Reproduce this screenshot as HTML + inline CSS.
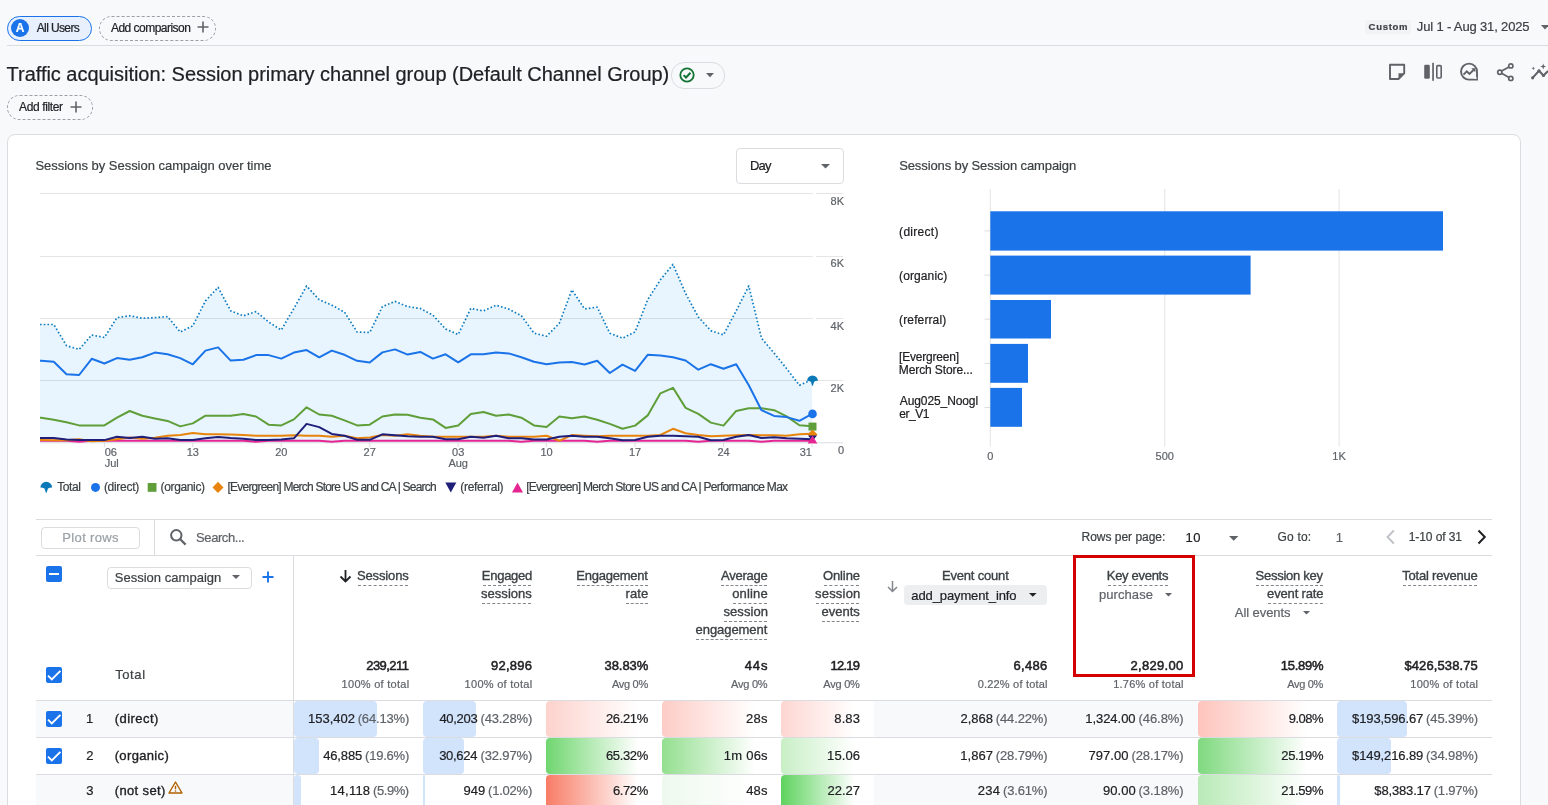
<!DOCTYPE html>
<html><head><meta charset="utf-8"><title>Traffic acquisition</title>
<style>
html,body{margin:0;padding:0;}
body{width:1548px;height:805px;overflow:hidden;position:relative;background:#f8f9fa;font-family:"Liberation Sans",Arial,sans-serif;}
.t{position:absolute;white-space:nowrap;line-height:1;-webkit-text-stroke:0.2px currentColor;}
.b{position:absolute;}
.ic{position:absolute;overflow:visible;}
.ic text{font-family:"Liberation Sans",Arial,sans-serif;stroke:#5f6368;stroke-width:0.2px;}
.u{position:absolute;height:0;border-top:1px dashed #80868b;}
</style></head><body>
<div class="b" style="left:7px;top:16px;width:83px;height:23px;border:1px solid #1a73e8;background:#e8f0fe;border-radius:13px;"></div>
<div class="b" style="left:11px;top:19px;width:18px;height:18px;background:#1a73e8;border-radius:50%;"></div>
<div class="t" style="left:15.65px;top:22.14px;font-size:12px;color:#fff;font-weight:700;">A</div>
<div class="t" style="left:36.70px;top:22.14px;font-size:12px;color:#202124;letter-spacing:-0.612px;">All Users</div>
<div class="b" style="left:99px;top:16px;width:115px;height:23px;border:1px dashed #9aa0a6;border-radius:13px;"></div>
<div class="t" style="left:111.00px;top:22.14px;font-size:12px;color:#202124;letter-spacing:-0.531px;">Add comparison</div>
<svg class="ic" style="left:197px;top:21px" width="12" height="12" viewBox="0 0 12 12"><path d="M6 0.5V11.5M0.5 6H11.5" stroke="#5f6368" stroke-width="1.6"/></svg>
<div class="b" style="left:7px;top:45px;width:1541px;height:1px;background:#dadce0;"></div>
<div class="b" style="left:1365px;top:20px;width:46px;height:14px;background:#f1f3f4;border-radius:2px;"></div>
<div class="t" style="left:1368.60px;top:22.46px;font-size:9.5px;color:#3c4043;font-weight:700;letter-spacing:0.720px;">Custom</div>
<div class="t" style="left:1416.80px;top:20.00px;font-size:13px;color:#3c4043;letter-spacing:-0.153px;">Jul 1 - Aug 31, 2025</div>
<svg class="ic" style="left:1541px;top:25px" width="8" height="5" viewBox="0 0 8 5"><path d="M0 0H8L4 4.5Z" fill="#5f6368"/></svg>
<div class="t" style="left:6.60px;top:64.47px;font-size:20px;color:#202124;letter-spacing:-0.029px;">Traffic acquisition: Session primary channel group (Default Channel Group)</div>
<div class="b" style="left:671px;top:62px;width:52px;height:25px;border:1px solid #dadce0;border-radius:13px;"></div>
<svg class="ic" style="left:679px;top:67px" width="16" height="16" viewBox="0 0 16 16"><circle cx="8" cy="8" r="6.7" fill="none" stroke="#137333" stroke-width="1.8"/><path d="M4.6 8.1L7 10.5L11.5 5.8" fill="none" stroke="#137333" stroke-width="2"/></svg>
<svg class="ic" style="left:706px;top:73px" width="8" height="5" viewBox="0 0 8 5"><path d="M0 0H8L4 4.2Z" fill="#5f6368"/></svg>
<div class="b" style="left:7px;top:95px;width:84px;height:23px;border:1px dashed #9aa0a6;border-radius:13px;"></div>
<div class="t" style="left:19.00px;top:101.14px;font-size:12px;color:#202124;letter-spacing:-0.378px;">Add filter</div>
<svg class="ic" style="left:69.5px;top:101px" width="12" height="12" viewBox="0 0 12 12"><path d="M6 0.5V11.5M0.5 6H11.5" stroke="#5f6368" stroke-width="1.6"/></svg>
<svg class="ic" style="left:1380px;top:55px" width="168" height="35" viewBox="0 0 168 35">
<g fill="none" stroke="#5f6368" stroke-width="1.9" stroke-linejoin="round">
<path d="M10 9.8H24.2V18.3L18.5 24H10Z"/>
</g>
<path d="M18.5 24V18.3H24.2Z" fill="#5f6368"/>
<rect x="44.2" y="9.8" width="5.6" height="14" rx="1.2" fill="#5f6368"/>
<rect x="52.2" y="7.8" width="1.7" height="18" fill="#5f6368"/>
<rect x="56.8" y="10.6" width="4.4" height="12.4" rx="1" fill="none" stroke="#5f6368" stroke-width="1.6"/>
<g fill="none" stroke="#5f6368" stroke-width="1.9">
<path d="M97 24.6H89.5A8 8 0 1 1 97 17Z"/>
<path d="M83.5 19.6L86.8 16.3L89.5 19L94.5 14" />
</g>
<path d="M91.3 13.2H95.3V17.2Z" fill="#5f6368"/>
<circle cx="95.6" cy="23" r="1.1" fill="#fff"/>
<g fill="none" stroke="#5f6368" stroke-width="1.7">
<circle cx="130.8" cy="10.9" r="2.1"/><circle cx="130.8" cy="23.4" r="2.1"/><circle cx="119.8" cy="17.2" r="2.1"/>
<path d="M121.6 16.1L129 11.9M121.6 18.3L129 22.4"/>
</g>
<g fill="#5f6368">
<path d="M163.2 8.5L164 10.7L166.2 11.5L164 12.3L163.2 14.5L162.4 12.3L160.2 11.5L162.4 10.7Z"/>
<path d="M153.3 11.4L153.8 12.8L155.2 13.3L153.8 13.8L153.3 15.2L152.8 13.8L151.4 13.3L152.8 12.8Z"/>
</g>
<path d="M152.6 22.8L159 15.8L163.5 20.5L168 16" fill="none" stroke="#5f6368" stroke-width="2"/>
<circle cx="152.6" cy="22.8" r="1.6" fill="#5f6368"/><circle cx="159" cy="15.8" r="1.6" fill="#5f6368"/><circle cx="163.5" cy="20.5" r="1.6" fill="#5f6368"/>
</svg>
<div class="b" style="left:7px;top:134px;width:1512px;height:700px;border:1px solid #dadce0;border-radius:8px;background:#fff;"></div>
<div class="t" style="left:35.40px;top:158.60px;font-size:13px;color:#3c4043;letter-spacing:-0.024px;">Sessions by Session campaign over time</div>
<div class="b" style="left:736px;top:148px;width:106px;height:34px;border:1px solid #dadce0;border-radius:4px;background:#fff;"></div>
<div class="t" style="left:750.00px;top:159.20px;font-size:13px;color:#202124;letter-spacing:-0.800px;">Day</div>
<svg class="ic" style="left:821px;top:164px" width="9" height="5" viewBox="0 0 9 5"><path d="M0 0H9L4.5 4.5Z" fill="#5f6368"/></svg>
<svg class="ic" style="left:0;top:0" width="1548" height="805" viewBox="0 0 1548 805"><path d="M40,324.5 L41.2,324.5 53.8,324.5 66.5,345.7 79.1,349.4 91.7,335.0 104.4,337.5 117.0,317.6 129.7,315.8 142.3,318.3 154.9,317.6 167.6,316.6 180.2,332.0 192.8,325.8 205.5,300.9 218.1,287.3 230.7,310.9 243.4,315.8 256.0,311.6 268.6,322.0 281.3,330.0 293.9,308.4 306.6,286.0 319.2,299.7 331.8,305.2 344.5,312.1 357.1,332.0 369.7,332.5 382.4,306.6 395.0,301.4 407.6,306.6 420.3,308.4 432.9,315.1 445.6,329.0 458.2,334.5 470.8,308.4 483.5,310.9 496.1,305.2 508.7,309.1 521.4,315.8 534.0,333.2 546.6,336.2 559.3,323.3 571.9,289.8 584.5,308.9 597.2,307.1 609.8,333.2 622.5,338.2 635.1,331.9 647.7,299.7 660.4,279.8 673.0,264.4 685.6,293.5 698.3,317.0 710.9,330.7 723.5,334.9 736.2,310.8 748.8,286.0 761.5,338.2 774.1,353.1 786.7,368.7 799.4,385.3 812.0,379.6 L812.5,442.8 L40,442.8Z" fill="#e8f5fe"/><path d="M40 193.5H812.8M816 193.5H843" stroke="rgba(0,0,0,0.1)" stroke-width="1"/><path d="M40 256.5H812.8M816 256.5H843" stroke="rgba(0,0,0,0.1)" stroke-width="1"/><path d="M40 318.5H812.8M816 318.5H843" stroke="rgba(0,0,0,0.1)" stroke-width="1"/><path d="M40 380.5H812.8M816 380.5H843" stroke="rgba(0,0,0,0.1)" stroke-width="1"/><path d="M40 442.8H812.8M816 442.8H843" stroke="#dadce0" stroke-width="1"/><polyline points="40,440.8 41.2,440.8 53.8,440.8 66.5,440.8 79.1,441.8 91.7,440.8 104.4,440.8 117.0,440.8 129.7,440.8 142.3,440.8 154.9,440.8 167.6,440.8 180.2,440.8 192.8,440.8 205.5,440.8 218.1,440.8 230.7,440.8 243.4,440.8 256.0,441.8 268.6,440.8 281.3,440.8 293.9,440.8 306.6,440.8 319.2,440.8 331.8,441.8 344.5,440.8 357.1,440.8 369.7,440.8 382.4,440.8 395.0,440.8 407.6,440.8 420.3,440.8 432.9,440.8 445.6,440.8 458.2,440.8 470.8,440.8 483.5,440.8 496.1,440.8 508.7,440.8 521.4,441.8 534.0,440.8 546.6,440.8 559.3,440.8 571.9,440.8 584.5,440.8 597.2,441.8 609.8,440.8 622.5,440.8 635.1,440.8 647.7,440.8 660.4,440.8 673.0,440.8 685.6,440.8 698.3,441.8 710.9,440.8 723.5,440.8 736.2,440.8 748.8,440.8 761.5,441.8 774.1,440.8 786.7,440.8 799.4,440.8 812.0,440.8" fill="none" stroke="#e52592" stroke-width="2" stroke-linejoin="round" /><polyline points="40,440.1 41.2,440.1 53.8,440.3 66.5,440.3 79.1,439.3 91.7,441.3 104.4,440.8 117.0,439.3 129.7,437.6 142.3,438.8 154.9,437.8 167.6,435.8 180.2,435.1 192.8,432.9 205.5,434.3 218.1,434.3 230.7,434.6 243.4,435.1 256.0,435.8 268.6,435.8 281.3,435.8 293.9,435.3 306.6,435.8 319.2,435.8 331.8,436.8 344.5,435.8 357.1,438.3 369.7,437.6 382.4,435.1 395.0,435.8 407.6,434.3 420.3,435.8 432.9,436.8 445.6,436.8 458.2,436.8 470.8,436.8 483.5,436.8 496.1,435.8 508.7,436.8 521.4,436.8 534.0,436.8 546.6,435.8 559.3,440.8 571.9,435.1 584.5,435.8 597.2,436.3 609.8,435.8 622.5,435.7 635.1,435.7 647.7,435.7 660.4,435.0 673.0,428.8 685.6,433.3 698.3,435.0 710.9,436.2 723.5,435.7 736.2,435.2 748.8,435.0 761.5,435.2 774.1,435.2 786.7,435.7 799.4,434.3 812.0,433.8" fill="none" stroke="#e8830c" stroke-width="2" stroke-linejoin="round" /><polyline points="40,438.1 41.2,438.1 53.8,438.1 66.5,439.6 79.1,440.1 91.7,440.1 104.4,440.1 117.0,436.8 129.7,438.1 142.3,436.8 154.9,438.8 167.6,438.3 180.2,440.1 192.8,440.1 205.5,438.3 218.1,437.1 230.7,438.1 243.4,438.8 256.0,440.1 268.6,440.1 281.3,439.6 293.9,438.3 306.6,423.9 319.2,427.1 331.8,433.9 344.5,435.8 357.1,439.8 369.7,439.8 382.4,434.3 395.0,435.3 407.6,436.3 420.3,436.8 432.9,436.8 445.6,439.3 458.2,439.3 470.8,436.8 483.5,437.8 496.1,435.8 508.7,438.3 521.4,438.3 534.0,439.6 546.6,439.6 559.3,436.8 571.9,435.8 584.5,436.8 597.2,436.8 609.8,438.3 622.5,440.2 635.1,440.0 647.7,436.7 660.4,435.7 673.0,435.7 685.6,436.2 698.3,436.7 710.9,440.2 723.5,440.0 736.2,436.7 748.8,435.0 761.5,438.0 774.1,437.2 786.7,438.2 799.4,438.7 812.0,439.2" fill="none" stroke="#1f1f7a" stroke-width="2" stroke-linejoin="round" /><polyline points="40,417.7 41.2,417.7 53.8,419.7 66.5,422.2 79.1,425.4 91.7,425.4 104.4,425.4 117.0,417.7 129.7,411.0 142.3,415.7 154.9,418.4 167.6,420.9 180.2,426.4 192.8,423.4 205.5,415.7 218.1,415.7 230.7,415.7 243.4,414.0 256.0,416.5 268.6,424.7 281.3,425.4 293.9,419.4 306.6,407.3 319.2,414.5 331.8,415.7 344.5,420.4 357.1,425.4 369.7,424.7 382.4,416.5 395.0,414.5 407.6,414.7 420.3,417.7 432.9,419.4 445.6,427.9 458.2,425.4 470.8,414.0 483.5,412.0 496.1,415.7 508.7,414.5 521.4,417.7 534.0,425.4 546.6,427.1 559.3,416.5 571.9,418.2 584.5,416.5 597.2,419.7 609.8,423.9 622.5,428.8 635.1,425.6 647.7,415.4 660.4,393.3 673.0,387.8 685.6,407.9 698.3,413.9 710.9,422.6 723.5,425.6 736.2,410.9 748.8,408.2 761.5,408.2 774.1,410.2 786.7,416.4 799.4,425.3 812.0,426.3" fill="none" stroke="#5f9e38" stroke-width="2" stroke-linejoin="round" /><polyline points="40,360.8 41.2,360.8 53.8,361.8 66.5,374.2 79.1,375.0 91.7,358.8 104.4,363.5 117.0,358.1 129.7,359.8 142.3,357.3 154.9,352.6 167.6,354.3 180.2,358.1 192.8,364.3 205.5,350.6 218.1,347.4 230.7,360.6 243.4,359.8 256.0,355.1 268.6,355.1 281.3,358.6 293.9,352.6 306.6,350.1 319.2,357.3 331.8,350.6 344.5,354.8 357.1,360.8 369.7,362.5 382.4,352.4 395.0,349.4 407.6,354.6 420.3,351.9 432.9,358.6 445.6,354.3 458.2,362.3 470.8,354.3 483.5,354.3 496.1,352.6 508.7,353.4 521.4,357.3 534.0,361.8 546.6,364.3 559.3,362.5 571.9,362.0 584.5,364.5 597.2,360.8 609.8,373.0 622.5,364.7 635.1,370.9 647.7,354.8 660.4,355.5 673.0,357.3 685.6,360.5 698.3,369.7 710.9,364.2 723.5,368.7 736.2,364.2 748.8,385.3 761.5,410.2 774.1,415.9 786.7,417.1 799.4,420.8 812.0,413.9" fill="none" stroke="#1a73e8" stroke-width="2" stroke-linejoin="round" /><polyline points="40,324.5 41.2,324.5 53.8,324.5 66.5,345.7 79.1,349.4 91.7,335.0 104.4,337.5 117.0,317.6 129.7,315.8 142.3,318.3 154.9,317.6 167.6,316.6 180.2,332.0 192.8,325.8 205.5,300.9 218.1,287.3 230.7,310.9 243.4,315.8 256.0,311.6 268.6,322.0 281.3,330.0 293.9,308.4 306.6,286.0 319.2,299.7 331.8,305.2 344.5,312.1 357.1,332.0 369.7,332.5 382.4,306.6 395.0,301.4 407.6,306.6 420.3,308.4 432.9,315.1 445.6,329.0 458.2,334.5 470.8,308.4 483.5,310.9 496.1,305.2 508.7,309.1 521.4,315.8 534.0,333.2 546.6,336.2 559.3,323.3 571.9,289.8 584.5,308.9 597.2,307.1 609.8,333.2 622.5,338.2 635.1,331.9 647.7,299.7 660.4,279.8 673.0,264.4 685.6,293.5 698.3,317.0 710.9,330.7 723.5,334.9 736.2,310.8 748.8,286.0 761.5,338.2 774.1,353.1 786.7,368.7 799.4,385.3 812.0,379.6" fill="none" stroke="#0f7cbf" stroke-width="1.7" stroke-linejoin="round" stroke-dasharray="1.6 2.13"/><path d="M807.1,380.8 A5.4 5.2 0 0 1 817.9,380.8 Q815.5,380.8 814.1,381.8 L812.9,385.8 L812.1,385.8 L810.9,381.8 Q809.5,380.8 807.1,380.8Z" fill="#0b79b8"/><circle cx="812.5" cy="413.9" r="4.3" fill="#1a73e8"/><rect x="808.5" y="422.6" width="8" height="8" fill="#5f9e38"/><path d="M812.5,429.5 L817.5,434.5 L812.5,439.5 L807.5,434.5Z" fill="#e8830c"/><path d="M808.0,435.5 H817.0 L812.5,441Z" fill="#1f1f7a"/><path d="M807.7,443.5 H817.3 L812.5,435.5Z" fill="#e52592"/><path d="M104.4 443V447" stroke="#dadce0" stroke-width="1"/><text x="104.7" y="455.8" font-size="11" fill="#5f6368" text-anchor="start">06</text><text x="104.7" y="466.8" font-size="11" fill="#5f6368" text-anchor="start">Jul</text><path d="M192.8 443V447" stroke="#dadce0" stroke-width="1"/><text x="192.8" y="455.8" font-size="11" fill="#5f6368" text-anchor="middle">13</text><path d="M281.3 443V447" stroke="#dadce0" stroke-width="1"/><text x="281.3" y="455.8" font-size="11" fill="#5f6368" text-anchor="middle">20</text><path d="M369.7 443V447" stroke="#dadce0" stroke-width="1"/><text x="369.7" y="455.8" font-size="11" fill="#5f6368" text-anchor="middle">27</text><path d="M458.2 443V447" stroke="#dadce0" stroke-width="1"/><text x="458.2" y="455.8" font-size="11" fill="#5f6368" text-anchor="middle">03</text><text x="458.2" y="466.8" font-size="11" fill="#5f6368" text-anchor="middle">Aug</text><path d="M546.6 443V447" stroke="#dadce0" stroke-width="1"/><text x="546.6" y="455.8" font-size="11" fill="#5f6368" text-anchor="middle">10</text><path d="M635.1 443V447" stroke="#dadce0" stroke-width="1"/><text x="635.1" y="455.8" font-size="11" fill="#5f6368" text-anchor="middle">17</text><path d="M723.5 443V447" stroke="#dadce0" stroke-width="1"/><text x="723.5" y="455.8" font-size="11" fill="#5f6368" text-anchor="middle">24</text><path d="M812.0 443V447" stroke="#dadce0" stroke-width="1"/><text x="812.0" y="455.8" font-size="11" fill="#5f6368" text-anchor="end">31</text><text x="844" y="204.8" font-size="11" fill="#5f6368" text-anchor="end">8K</text><text x="844" y="267.1" font-size="11" fill="#5f6368" text-anchor="end">6K</text><text x="844" y="329.5" font-size="11" fill="#5f6368" text-anchor="end">4K</text><text x="844" y="391.8" font-size="11" fill="#5f6368" text-anchor="end">2K</text><text x="844" y="454.2" font-size="11" fill="#5f6368" text-anchor="end">0</text><path d="M40.4,487.6 A5.85 5.8 0 0 1 52.1,487.6 Q49.6,487.6 48,488.6 L46.6,492.8 L45.9,492.8 L44.5,488.6 Q42.9,487.6 40.4,487.6Z" fill="#0b79b8"/><circle cx="95.5" cy="487.4" r="4.5" fill="#1a73e8"/><rect x="147.7" y="483" width="8.8" height="8.8" fill="#5f9e38"/><path d="M218,481.8 L223.5,487.4 L218,493 L212.5,487.4Z" fill="#e8830c"/><path d="M445.3,482.4 H456.3 L450.8,492.4Z" fill="#1f1f7a"/><path d="M512,492.4 H523 L517.5,482.4Z" fill="#e52592"/><path d="M990.3 189V446.6" stroke="#e3e3e3" stroke-width="1"/><path d="M1164.8 189V446.6" stroke="#e3e3e3" stroke-width="1"/><path d="M1339.1 189V446.6" stroke="#e3e3e3" stroke-width="1"/><rect x="990.3" y="211.3" width="452.7" height="39.3" fill="#1a73e8"/><path d="M984.4 230.9H990" stroke="#dadce0" stroke-width="1"/><rect x="990.3" y="255.6" width="260.3" height="39.0" fill="#1a73e8"/><path d="M984.4 275.1H990" stroke="#dadce0" stroke-width="1"/><rect x="990.3" y="300" width="60.7" height="38.5" fill="#1a73e8"/><path d="M984.4 319.2H990" stroke="#dadce0" stroke-width="1"/><rect x="990.3" y="343.9" width="37.7" height="38.9" fill="#1a73e8"/><path d="M984.4 363.4H990" stroke="#dadce0" stroke-width="1"/><rect x="990.3" y="387.9" width="31.7" height="38.9" fill="#1a73e8"/><path d="M984.4 407.4H990" stroke="#dadce0" stroke-width="1"/><text x="990.3" y="460" font-size="11" fill="#5f6368" text-anchor="middle">0</text><text x="1164.8" y="460" font-size="11" fill="#5f6368" text-anchor="middle">500</text><text x="1339.1" y="460" font-size="11" fill="#5f6368" text-anchor="middle">1K</text></svg>
<div class="t" style="left:899.20px;top:159.30px;font-size:13px;color:#3c4043;letter-spacing:-0.111px;">Sessions by Session campaign</div>
<div class="t" style="left:899.10px;top:225.64px;font-size:12px;color:#202124;letter-spacing:0.286px;">(direct)</div>
<div class="t" style="left:899.10px;top:269.84px;font-size:12px;color:#202124;letter-spacing:0.100px;">(organic)</div>
<div class="t" style="left:899.10px;top:313.84px;font-size:12px;color:#202124;letter-spacing:0.122px;">(referral)</div>
<div class="t" style="left:899.00px;top:351.34px;font-size:12px;color:#202124;letter-spacing:-0.200px;">[Evergreen]</div>
<div class="t" style="left:898.80px;top:364.14px;font-size:12px;color:#202124;letter-spacing:-0.100px;">Merch Store...</div>
<div class="t" style="left:899.80px;top:395.34px;font-size:12px;color:#202124;letter-spacing:-0.100px;">Aug025_Noogl</div>
<div class="t" style="left:899.30px;top:408.14px;font-size:12px;color:#202124;letter-spacing:-0.475px;">er_V1</div>
<div class="t" style="left:57.20px;top:480.94px;font-size:12px;color:#3c4043;letter-spacing:-0.425px;">Total</div>
<div class="t" style="left:103.90px;top:480.94px;font-size:12px;color:#3c4043;letter-spacing:-0.286px;">(direct)</div>
<div class="t" style="left:160.60px;top:480.94px;font-size:12px;color:#3c4043;letter-spacing:-0.362px;">(organic)</div>
<div class="t" style="left:227.50px;top:480.94px;font-size:12px;color:#3c4043;letter-spacing:-0.783px;">[Evergreen] Merch Store US and CA | Search</div>
<div class="t" style="left:460.30px;top:480.94px;font-size:12px;color:#3c4043;letter-spacing:-0.311px;">(referral)</div>
<div class="t" style="left:526.20px;top:480.94px;font-size:12px;color:#3c4043;letter-spacing:-0.720px;">[Evergreen] Merch Store US and CA | Performance Max</div>
<div class="b" style="left:36px;top:519px;width:1456px;height:1px;background:#dadce0;"></div>
<div class="b" style="left:36px;top:555px;width:1456px;height:1px;background:#dadce0;"></div>
<div class="b" style="left:154px;top:519px;width:1px;height:36px;background:#dadce0;"></div>
<div class="b" style="left:41px;top:527px;width:97px;height:20px;border:1px solid #dadce0;border-radius:4px;"></div>
<div class="t" style="left:62.30px;top:531.30px;font-size:13px;color:#9aa0a6;letter-spacing:0.350px;">Plot rows</div>
<svg class="ic" style="left:169px;top:528px" width="18" height="18" viewBox="0 0 18 18"><circle cx="7.3" cy="7.3" r="5.2" fill="none" stroke="#5f6368" stroke-width="2"/><path d="M11 11L16.6 16.6" stroke="#5f6368" stroke-width="2.2"/></svg>
<div class="t" style="left:196.10px;top:531.20px;font-size:13px;color:#5f6368;letter-spacing:-0.425px;">Search...</div>
<div class="t" style="left:1081.50px;top:530.94px;font-size:12px;color:#3c4043;letter-spacing:-0.015px;">Rows per page:</div>
<div class="t" style="left:1185.60px;top:531.00px;font-size:13px;color:#202124;letter-spacing:0.500px;">10</div>
<svg class="ic" style="left:1229px;top:536px" width="10" height="5" viewBox="0 0 10 5"><path d="M0 0H9.4L4.7 4.8Z" fill="#5f6368"/></svg>
<div class="t" style="left:1277.60px;top:530.94px;font-size:12px;color:#3c4043;letter-spacing:0.160px;">Go to:</div>
<div class="t" style="left:1335.80px;top:531.00px;font-size:13px;color:#5f6368;">1</div>
<svg class="ic" style="left:1384px;top:529px" width="14" height="16" viewBox="0 0 14 16"><path d="M9.8 1.5L3.5 8L9.8 14.5" fill="none" stroke="#bdc1c6" stroke-width="1.8"/></svg>
<div class="t" style="left:1408.70px;top:530.64px;font-size:12px;color:#3c4043;letter-spacing:-0.078px;">1-10 of 31</div>
<svg class="ic" style="left:1475px;top:529px" width="14" height="16" viewBox="0 0 14 16"><path d="M3.5 1.5L9.8 8L3.5 14.5" fill="none" stroke="#202124" stroke-width="2"/></svg>
<div class="b" style="left:46px;top:566px;width:16px;height:16px;background:#1a73e8;border-radius:2px;"></div>
<div class="b" style="left:49px;top:573px;width:10px;height:2px;background:#fff;"></div>
<div class="b" style="left:107px;top:567px;width:143px;height:19.5px;border:1px solid #dadce0;border-radius:4px;"></div>
<div class="t" style="left:114.70px;top:571.00px;font-size:13px;color:#3c4043;letter-spacing:0.027px;">Session campaign</div>
<svg class="ic" style="left:232px;top:575px" width="9" height="5" viewBox="0 0 9 5"><path d="M0 0H8L4 4Z" fill="#5f6368"/></svg>
<svg class="ic" style="left:262px;top:571px" width="12" height="12" viewBox="0 0 12 12"><path d="M6 0.5V11.5M0.5 6H11.5" stroke="#1a73e8" stroke-width="1.9"/></svg>
<div class="b" style="left:293px;top:555px;width:1px;height:260px;background:#dadce0;"></div>
<div class="t" style="left:356.90px;top:569.20px;font-size:13px;color:#3c4043;-webkit-text-stroke:0.35px currentColor;letter-spacing:-0.114px;">Sessions</div><div class="u" style="left:357.5px;top:585.2px;width:50.9px"></div>
<svg class="ic" style="left:339px;top:569px" width="13" height="14" viewBox="0 0 13 14"><path d="M6.5 1V12.5M1.5 7.5L6.5 12.5L11.5 7.5" fill="none" stroke="#202124" stroke-width="1.8"/></svg>
<div class="t" style="left:481.80px;top:569.20px;font-size:13px;color:#3c4043;-webkit-text-stroke:0.35px currentColor;letter-spacing:-0.267px;">Engaged</div><div class="u" style="left:482.8px;top:585.2px;width:48.6px"></div><div class="t" style="left:481.10px;top:587.20px;font-size:13px;color:#3c4043;-webkit-text-stroke:0.35px currentColor;letter-spacing:0.014px;">sessions</div><div class="u" style="left:481.5px;top:603.2px;width:49.9px"></div>
<div class="t" style="left:576.30px;top:569.20px;font-size:13px;color:#3c4043;-webkit-text-stroke:0.35px currentColor;letter-spacing:-0.233px;">Engagement</div><div class="u" style="left:577.3px;top:585.2px;width:70.5px"></div><div class="t" style="left:625.60px;top:587.20px;font-size:13px;color:#3c4043;-webkit-text-stroke:0.35px currentColor;letter-spacing:0.100px;">rate</div><div class="u" style="left:626.4px;top:603.2px;width:21.4px"></div>
<div class="t" style="left:721.10px;top:569.20px;font-size:13px;color:#3c4043;-webkit-text-stroke:0.35px currentColor;letter-spacing:-0.267px;">Average</div><div class="u" style="left:721.1px;top:585.2px;width:46.1px"></div><div class="t" style="left:732.20px;top:587.20px;font-size:13px;color:#3c4043;-webkit-text-stroke:0.35px currentColor;letter-spacing:0.160px;">online</div><div class="u" style="left:732.7px;top:603.2px;width:34.5px"></div><div class="t" style="left:723.40px;top:605.20px;font-size:13px;color:#3c4043;-webkit-text-stroke:0.35px currentColor;letter-spacing:0.100px;">session</div><div class="u" style="left:723.8px;top:621.2px;width:43.4px"></div><div class="t" style="left:695.60px;top:623.20px;font-size:13px;color:#3c4043;-webkit-text-stroke:0.35px currentColor;letter-spacing:-0.067px;">engagement</div><div class="u" style="left:696.1px;top:639.2px;width:71.1px"></div>
<div class="t" style="left:823.00px;top:569.20px;font-size:13px;color:#3c4043;-webkit-text-stroke:0.35px currentColor;letter-spacing:-0.120px;">Online</div><div class="u" style="left:823.6px;top:585.2px;width:35.8px"></div><div class="t" style="left:815.10px;top:587.20px;font-size:13px;color:#3c4043;-webkit-text-stroke:0.35px currentColor;letter-spacing:0.183px;">session</div><div class="u" style="left:815.5px;top:603.2px;width:43.9px"></div><div class="t" style="left:821.50px;top:605.20px;font-size:13px;color:#3c4043;-webkit-text-stroke:0.35px currentColor;">events</div><div class="u" style="left:822.0px;top:621.2px;width:37.4px"></div>
<svg class="ic" style="left:886px;top:580px" width="13" height="13" viewBox="0 0 13 13"><path d="M6.5 1V11.5M2 7L6.5 11.5L11 7" fill="none" stroke="#80868b" stroke-width="1.5"/></svg>
<div class="t" style="left:942.00px;top:569.20px;font-size:13px;color:#3c4043;-webkit-text-stroke:0.35px currentColor;letter-spacing:-0.190px;">Event count</div>
<div class="u" style="left:943px;top:585.2px;width:65.6px"></div>
<div class="b" style="left:904.2px;top:585.4px;width:142.4px;height:20.1px;background:#eceef0;border-radius:4px;"></div>
<div class="t" style="left:911.30px;top:589.00px;font-size:13px;color:#202124;letter-spacing:-0.113px;">add_payment_info</div>
<svg class="ic" style="left:1029px;top:593px" width="8" height="5" viewBox="0 0 8 5"><path d="M0 0H7.6L3.8 3.8Z" fill="#202124"/></svg>
<div class="t" style="left:1106.80px;top:569.20px;font-size:13px;color:#3c4043;-webkit-text-stroke:0.35px currentColor;letter-spacing:-0.300px;">Key events</div>
<div class="u" style="left:1107.8px;top:585.2px;width:60.2px"></div>
<div class="t" style="left:1099.00px;top:588.40px;font-size:13px;color:#5f6368;letter-spacing:0.071px;">purchase</div>
<svg class="ic" style="left:1164.5px;top:593px" width="8" height="5" viewBox="0 0 8 5"><path d="M0 0H7L3.5 3.5Z" fill="#5f6368"/></svg>
<div class="t" style="left:1255.60px;top:569.20px;font-size:13px;color:#3c4043;-webkit-text-stroke:0.35px currentColor;letter-spacing:-0.270px;">Session key</div><div class="u" style="left:1256.2px;top:585.2px;width:66.8px"></div><div class="t" style="left:1267.10px;top:587.20px;font-size:13px;color:#3c4043;-webkit-text-stroke:0.35px currentColor;letter-spacing:-0.156px;">event rate</div><div class="u" style="left:1267.6px;top:603.2px;width:55.4px"></div>
<div class="t" style="left:1234.80px;top:606.40px;font-size:13px;color:#5f6368;letter-spacing:-0.067px;">All events</div>
<svg class="ic" style="left:1303px;top:611px" width="8" height="5" viewBox="0 0 8 5"><path d="M0 0H7L3.5 3.5Z" fill="#5f6368"/></svg>
<div class="t" style="left:1402.20px;top:569.20px;font-size:13px;color:#3c4043;-webkit-text-stroke:0.35px currentColor;letter-spacing:-0.200px;">Total revenue</div><div class="u" style="left:1402.5px;top:585.2px;width:74.8px"></div>
<div class="b" style="left:46px;top:667px;width:16px;height:16px;background:#1a73e8;border-radius:2px;"></div>
<svg class="ic" style="left:46px;top:667px" width="16" height="16" viewBox="0 0 16 16"><path d="M2 8.7L5.8 12.5L14.4 3.9" fill="none" stroke="#fff" stroke-width="1.9"/></svg>
<div class="t" style="left:115.20px;top:668.00px;font-size:13px;color:#3c4043;letter-spacing:0.600px;">Total</div>
<div class="t" style="left:366.20px;top:659.40px;font-size:13px;color:#202124;-webkit-text-stroke:0.35px currentColor;letter-spacing:-0.533px;-webkit-text-stroke:0.5px #202124;">239,211</div>
<div class="t" style="left:341.60px;top:679.19px;font-size:11px;color:#5f6368;letter-spacing:0.275px;">100% of total</div>
<div class="t" style="left:491.00px;top:659.40px;font-size:13px;color:#202124;-webkit-text-stroke:0.35px currentColor;letter-spacing:0.240px;-webkit-text-stroke:0.5px #202124;">92,896</div>
<div class="t" style="left:464.60px;top:679.19px;font-size:11px;color:#5f6368;letter-spacing:0.275px;">100% of total</div>
<div class="t" style="left:604.50px;top:659.40px;font-size:13px;color:#202124;-webkit-text-stroke:0.35px currentColor;letter-spacing:-0.060px;-webkit-text-stroke:0.5px #202124;">38.83%</div>
<div class="t" style="left:612.00px;top:679.19px;font-size:11px;color:#5f6368;letter-spacing:-0.300px;">Avg 0%</div>
<div class="t" style="left:744.70px;top:659.40px;font-size:13px;color:#202124;-webkit-text-stroke:0.35px currentColor;letter-spacing:0.950px;-webkit-text-stroke:0.5px #202124;">44s</div>
<div class="t" style="left:731.10px;top:679.19px;font-size:11px;color:#5f6368;letter-spacing:-0.240px;">Avg 0%</div>
<div class="t" style="left:830.50px;top:659.40px;font-size:13px;color:#202124;-webkit-text-stroke:0.35px currentColor;letter-spacing:-0.750px;-webkit-text-stroke:0.5px #202124;">12.19</div>
<div class="t" style="left:823.30px;top:679.19px;font-size:11px;color:#5f6368;letter-spacing:-0.240px;">Avg 0%</div>
<div class="t" style="left:1013.50px;top:659.40px;font-size:13px;color:#202124;-webkit-text-stroke:0.35px currentColor;letter-spacing:0.300px;-webkit-text-stroke:0.5px #202124;">6,486</div>
<div class="t" style="left:977.70px;top:679.19px;font-size:11px;color:#5f6368;letter-spacing:0.192px;">0.22% of total</div>
<div class="t" style="left:1130.50px;top:659.40px;font-size:13px;color:#202124;-webkit-text-stroke:0.35px currentColor;letter-spacing:0.314px;-webkit-text-stroke:0.5px #202124;">2,829.00</div>
<div class="t" style="left:1113.20px;top:679.19px;font-size:11px;color:#5f6368;letter-spacing:0.238px;">1.76% of total</div>
<div class="t" style="left:1280.80px;top:659.40px;font-size:13px;color:#202124;-webkit-text-stroke:0.35px currentColor;letter-spacing:-0.280px;-webkit-text-stroke:0.5px #202124;">15.89%</div>
<div class="t" style="left:1287.20px;top:679.19px;font-size:11px;color:#5f6368;letter-spacing:-0.300px;">Avg 0%</div>
<div class="t" style="left:1404.40px;top:659.40px;font-size:13px;color:#202124;-webkit-text-stroke:0.35px currentColor;letter-spacing:0.110px;-webkit-text-stroke:0.5px #202124;">$426,538.75</div>
<div class="t" style="left:1410.30px;top:679.19px;font-size:11px;color:#5f6368;letter-spacing:0.292px;">100% of total</div>
<div class="b" style="left:36px;top:700px;width:1456px;height:1px;background:#dadce0;"></div>
<div class="b" style="left:36px;top:737px;width:1456px;height:1px;background:#dadce0;"></div>
<div class="b" style="left:36px;top:774px;width:1456px;height:1px;background:#dadce0;"></div>
<div class="b" style="left:36px;top:701px;width:257px;height:36px;background:#f8f9fa;"></div>
<div class="b" style="left:874px;top:701px;width:324px;height:36px;background:#f8f9fa;"></div>
<div class="b" style="left:36px;top:775px;width:257px;height:36px;background:#f8f9fa;"></div>
<div class="b" style="left:874px;top:775px;width:324px;height:36px;background:#f8f9fa;"></div>
<div class="b" style="left:46px;top:711px;width:16px;height:16px;background:#1a73e8;border-radius:2px;"></div>
<svg class="ic" style="left:46px;top:711px" width="16" height="16" viewBox="0 0 16 16"><path d="M2 8.7L5.8 12.5L14.4 3.9" fill="none" stroke="#fff" stroke-width="1.9"/></svg>
<div class="b" style="left:46px;top:748px;width:16px;height:16px;background:#1a73e8;border-radius:2px;"></div>
<svg class="ic" style="left:46px;top:748px" width="16" height="16" viewBox="0 0 16 16"><path d="M2 8.7L5.8 12.5L14.4 3.9" fill="none" stroke="#fff" stroke-width="1.9"/></svg>
<div class="t" style="left:86.00px;top:712.00px;font-size:13px;color:#202124;">1</div>
<div class="t" style="left:114.70px;top:712.00px;font-size:13px;color:#202124;-webkit-text-stroke:0.35px currentColor;letter-spacing:0.471px;">(direct)</div>
<div class="t" style="left:86.20px;top:749.00px;font-size:13px;color:#202124;">2</div>
<div class="t" style="left:114.70px;top:749.00px;font-size:13px;color:#202124;-webkit-text-stroke:0.35px currentColor;letter-spacing:0.350px;">(organic)</div>
<div class="t" style="left:86.20px;top:783.70px;font-size:13px;color:#202124;">3</div>
<div class="t" style="left:114.70px;top:783.70px;font-size:13px;color:#202124;-webkit-text-stroke:0.35px currentColor;letter-spacing:0.375px;">(not set)</div>
<svg class="ic" style="left:168px;top:781px" width="15" height="13" viewBox="0 0 15 13"><path d="M7.5 1L14 12H1Z" fill="none" stroke="#b06000" stroke-width="1.4" stroke-linejoin="round"/><path d="M7.5 4.8V8.3" stroke="#b06000" stroke-width="1.4"/><circle cx="7.5" cy="10" r="0.8" fill="#b06000"/></svg>
<div class="b" style="left:294.3px;top:701px;width:82.59999999999997px;height:35.5px;background:#d2e3fc;border-radius:4px;"></div>
<div class="b" style="left:423px;top:701px;width:52.89999999999998px;height:35.5px;background:#d2e3fc;border-radius:4px;"></div>
<div class="b" style="left:1337.3px;top:701px;width:69.40000000000009px;height:35.5px;background:#d2e3fc;border-radius:4px;"></div>
<div class="b" style="left:294.3px;top:738px;width:24.599999999999966px;height:35.5px;background:#d2e3fc;border-radius:4px;"></div>
<div class="b" style="left:423px;top:738px;width:40.69999999999999px;height:35.5px;background:#d2e3fc;border-radius:4px;"></div>
<div class="b" style="left:1337.3px;top:738px;width:53.40000000000009px;height:35.5px;background:#d2e3fc;border-radius:4px;"></div>
<div class="b" style="left:294.3px;top:775px;width:6.599999999999966px;height:35.5px;background:#d2e3fc;border-radius:4px;"></div>
<div class="b" style="left:423px;top:775px;width:2.1999999999999886px;height:35.5px;background:#d2e3fc;border-radius:4px;"></div>
<div class="b" style="left:1337.3px;top:775px;width:2.2999999999999545px;height:35.5px;background:#d2e3fc;border-radius:4px;"></div>
<div class="b" style="left:546px;top:701px;width:115px;height:35.5px;background:linear-gradient(90deg,#fdd2cc 0%,rgba(255,255,255,0) 80%);border-radius:4px;"></div>
<div class="b" style="left:546px;top:738px;width:115px;height:35.5px;background:linear-gradient(90deg,#6fd66f 0%,rgba(255,255,255,0) 80%);border-radius:4px;"></div>
<div class="b" style="left:546px;top:775px;width:115px;height:35.5px;background:linear-gradient(90deg,#f87c66 0%,rgba(255,255,255,0) 80%);border-radius:4px;"></div>
<div class="b" style="left:662px;top:701px;width:116px;height:35.5px;background:linear-gradient(90deg,#fdccc6 0%,rgba(255,255,255,0) 80%);border-radius:4px;"></div>
<div class="b" style="left:662px;top:738px;width:116px;height:35.5px;background:linear-gradient(90deg,#93df8f 0%,rgba(255,255,255,0) 80%);border-radius:4px;"></div>
<div class="b" style="left:662px;top:775px;width:116px;height:35.5px;background:linear-gradient(90deg,#eef9ee 0%,rgba(255,255,255,0) 80%);border-radius:4px;"></div>
<div class="b" style="left:781px;top:701px;width:92px;height:35.5px;background:linear-gradient(90deg,#fdd6d1 0%,rgba(255,255,255,0) 80%);border-radius:4px;"></div>
<div class="b" style="left:781px;top:738px;width:92px;height:35.5px;background:linear-gradient(90deg,#c8efc6 0%,rgba(255,255,255,0) 80%);border-radius:4px;"></div>
<div class="b" style="left:781px;top:775px;width:92px;height:35.5px;background:linear-gradient(90deg,#5ed35e 0%,rgba(255,255,255,0) 80%);border-radius:4px;"></div>
<div class="b" style="left:1198px;top:701px;width:136px;height:35.5px;background:linear-gradient(90deg,#fdc4bc 0%,rgba(255,255,255,0) 80%);border-radius:4px;"></div>
<div class="b" style="left:1198px;top:738px;width:136px;height:35.5px;background:linear-gradient(90deg,#7fd97f 0%,rgba(255,255,255,0) 80%);border-radius:4px;"></div>
<div class="b" style="left:1198px;top:775px;width:136px;height:35.5px;background:linear-gradient(90deg,#b8eab6 0%,rgba(255,255,255,0) 80%);border-radius:4px;"></div>
<div class="t" style="left:357.70px;top:712.00px;font-size:13px;color:#5f6368;letter-spacing:-0.171px;">(64.13%)</div><div class="t" style="left:308.10px;top:712.00px;font-size:13px;color:#202124;letter-spacing:-0.033px;">153,402</div>
<div class="t" style="left:480.50px;top:712.00px;font-size:13px;color:#5f6368;letter-spacing:-0.143px;">(43.28%)</div><div class="t" style="left:439.40px;top:712.00px;font-size:13px;color:#202124;letter-spacing:-0.300px;">40,203</div>
<div class="t" style="left:605.90px;top:712.00px;font-size:13px;color:#202124;letter-spacing:-0.340px;">26.21%</div>
<div class="t" style="left:745.90px;top:712.00px;font-size:13px;color:#202124;letter-spacing:0.350px;">28s</div>
<div class="t" style="left:834.30px;top:712.00px;font-size:13px;color:#202124;letter-spacing:0.100px;">8.83</div>
<div class="t" style="left:995.80px;top:712.00px;font-size:13px;color:#5f6368;letter-spacing:-0.143px;">(44.22%)</div><div class="t" style="left:960.60px;top:712.00px;font-size:13px;color:#202124;letter-spacing:-0.050px;">2,868</div>
<div class="t" style="left:1138.50px;top:712.00px;font-size:13px;color:#5f6368;letter-spacing:-0.067px;">(46.8%)</div><div class="t" style="left:1085.20px;top:712.00px;font-size:13px;color:#202124;letter-spacing:-0.029px;">1,324.00</div>
<div class="t" style="left:1288.70px;top:712.00px;font-size:13px;color:#202124;letter-spacing:-0.525px;">9.08%</div>
<div class="t" style="left:1426.10px;top:712.00px;font-size:13px;color:#5f6368;letter-spacing:-0.100px;">(45.39%)</div><div class="t" style="left:1352.10px;top:712.00px;font-size:13px;color:#202124;letter-spacing:-0.110px;">$193,596.67</div>
<div class="t" style="left:365.10px;top:749.00px;font-size:13px;color:#5f6368;letter-spacing:-0.233px;">(19.6%)</div><div class="t" style="left:323.20px;top:749.00px;font-size:13px;color:#202124;letter-spacing:-0.140px;">46,885</div>
<div class="t" style="left:480.50px;top:749.00px;font-size:13px;color:#5f6368;letter-spacing:-0.143px;">(32.97%)</div><div class="t" style="left:439.20px;top:749.00px;font-size:13px;color:#202124;letter-spacing:-0.300px;">30,624</div>
<div class="t" style="left:605.90px;top:749.00px;font-size:13px;color:#202124;letter-spacing:-0.340px;">65.32%</div>
<div class="t" style="left:723.70px;top:749.00px;font-size:13px;color:#202124;letter-spacing:0.260px;">1m 06s</div>
<div class="t" style="left:827.10px;top:749.00px;font-size:13px;color:#202124;letter-spacing:0.075px;">15.06</div>
<div class="t" style="left:995.80px;top:749.00px;font-size:13px;color:#5f6368;letter-spacing:-0.143px;">(28.79%)</div><div class="t" style="left:960.20px;top:749.00px;font-size:13px;color:#202124;letter-spacing:0.075px;">1,867</div>
<div class="t" style="left:1131.40px;top:749.00px;font-size:13px;color:#5f6368;letter-spacing:-0.071px;">(28.17%)</div><div class="t" style="left:1088.50px;top:749.00px;font-size:13px;color:#202124;letter-spacing:0.060px;">797.00</div>
<div class="t" style="left:1281.30px;top:749.00px;font-size:13px;color:#202124;letter-spacing:-0.380px;">25.19%</div>
<div class="t" style="left:1426.10px;top:749.00px;font-size:13px;color:#5f6368;letter-spacing:-0.100px;">(34.98%)</div><div class="t" style="left:1352.10px;top:749.00px;font-size:13px;color:#202124;letter-spacing:-0.110px;">$149,216.89</div>
<div class="t" style="left:373.00px;top:783.70px;font-size:13px;color:#5f6368;letter-spacing:-0.420px;">(5.9%)</div><div class="t" style="left:330.10px;top:783.70px;font-size:13px;color:#202124;letter-spacing:0.240px;">14,118</div>
<div class="t" style="left:488.10px;top:783.70px;font-size:13px;color:#5f6368;letter-spacing:-0.233px;">(1.02%)</div><div class="t" style="left:463.40px;top:783.70px;font-size:13px;color:#202124;letter-spacing:0.100px;">949</div>
<div class="t" style="left:612.90px;top:783.70px;font-size:13px;color:#202124;letter-spacing:-0.375px;">6.72%</div>
<div class="t" style="left:746.20px;top:783.70px;font-size:13px;color:#202124;letter-spacing:0.200px;">48s</div>
<div class="t" style="left:827.50px;top:783.70px;font-size:13px;color:#202124;">22.27</div>
<div class="t" style="left:1003.10px;top:783.70px;font-size:13px;color:#5f6368;letter-spacing:-0.183px;">(3.61%)</div><div class="t" style="left:977.80px;top:783.70px;font-size:13px;color:#202124;letter-spacing:0.250px;">234</div>
<div class="t" style="left:1138.50px;top:783.70px;font-size:13px;color:#5f6368;letter-spacing:-0.067px;">(3.18%)</div><div class="t" style="left:1103.10px;top:783.70px;font-size:13px;color:#202124;">90.00</div>
<div class="t" style="left:1281.30px;top:783.70px;font-size:13px;color:#202124;letter-spacing:-0.380px;">21.59%</div>
<div class="t" style="left:1433.70px;top:783.70px;font-size:13px;color:#5f6368;letter-spacing:-0.183px;">(1.97%)</div><div class="t" style="left:1374.30px;top:783.70px;font-size:13px;color:#202124;letter-spacing:-0.150px;">$8,383.17</div>
<div class="b" style="left:1072.5px;top:554.5px;width:116.5px;height:116.7px;border:3px solid #d40000;"></div>
</body></html>
